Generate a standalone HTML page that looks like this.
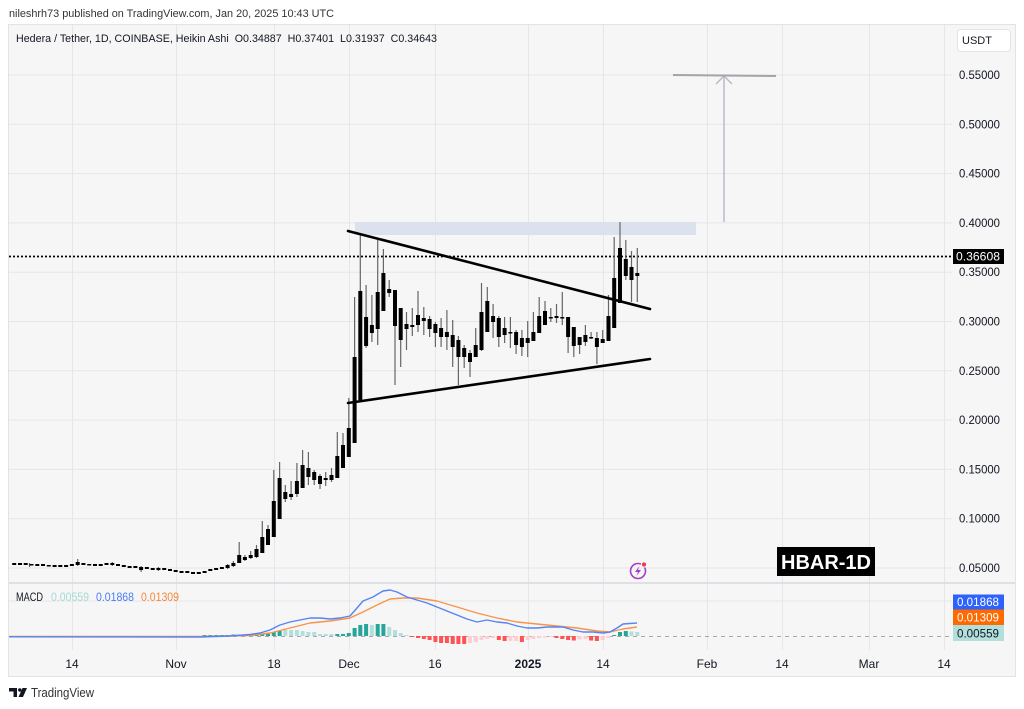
<!DOCTYPE html>
<html><head><meta charset="utf-8"><style>
html,body{margin:0;padding:0;background:#fff;}
svg{display:block;font-family:"Liberation Sans",sans-serif;}
</style></head><body>
<svg width="1024" height="709" viewBox="0 0 1024 709" xmlns="http://www.w3.org/2000/svg">
<rect x="0" y="0" width="1024" height="709" fill="#fff"/>
<text x="9" y="17" font-size="11" fill="#333" textLength="325" lengthAdjust="spacingAndGlyphs">nileshrh73 published on TradingView.com, Jan 20, 2025 10:43 UTC</text>
<rect x="8.5" y="24.5" width="1007" height="652" fill="#f6f6f6" stroke="#e2e3e8" stroke-width="1"/>
<!-- vertical gridlines -->
<g stroke="#e6e6e8" stroke-width="1">
<path d="M72.5 25V650M176.5 25V650M274.5 25V650M349.5 25V650M435.5 25V650M528.5 25V650M603.5 25V650M707.5 25V650M782.5 25V650M869.5 25V650M944.5 25V650"/>
<path d="M9 75H952M9 124.3H952M9 173.6H952M9 222.9H952M9 272.2H952M9 321.5H952M9 370.8H952M9 420.1H952M9 469.4H952M9 518.7H952M9 568H952"/>
<path d="M9 601H952"/>
</g>
<path d="M9 583H1015" stroke="#d7d9e0" stroke-width="1.5"/>
<!-- header line 2 -->
<text x="16" y="42" font-size="11" fill="#131722" style="white-space:pre" textLength="421" lengthAdjust="spacingAndGlyphs">Hedera / Tether, 1D, COINBASE, Heikin Ashi  O0.34887  H0.37401  L0.31937  C0.34643</text>
<!-- resistance zone -->
<rect x="355" y="222" width="341" height="13" fill="#dce1ee"/>
<!-- target arrow -->
<path d="M724 222V76" stroke="#b8bcc8" stroke-width="1.5" fill="none"/>
<path d="M716 84L724 76L732 84" stroke="#b8bcc8" stroke-width="1.5" fill="none"/>
<path d="M673 75L776 76" stroke="#a3a4a8" stroke-width="2"/>
<!-- dotted price line -->
<path d="M9 256.5H952" stroke="#000" stroke-width="1.8" stroke-dasharray="2 2"/>
<!-- wicks -->
<path fill="none" stroke="#666" stroke-width="1.2" d="M637.3,248V302M631.5,251V302M625.8,240V280M620,222V303M614.2,237V328M608.5,295V341M602.7,330V343M596.9,332V364M591.1,332V339M585.4,325V346M579.6,337V354M573.8,327V357M568.1,317V353M562.3,292V325M556.5,304V323M550.8,308V322M545,301V325M539.2,297V333M533.4,312V341M527.7,321V357M521.9,330V356M516.1,330V354M510.4,317V348M504.6,317V343M498.8,316V347M493.1,304V338M487.3,287V332M481.5,283V351M475.7,328V357M470,350V377M464.2,345V368M458.4,336V385M452.7,320V367M446.9,310V350M441.1,318V347M435.4,322V347M429.6,316V337M423.8,307V335M418,291V332M412.3,308V336M406.5,312V350M400.7,308V367M395,290V385M389.2,280V297M383.4,249V311M377.7,240V345M371.9,295V342M366.1,285V348M360.3,233V402M354.6,297V443M348.8,398V457M343,433V468M337.3,432V478M331.5,468V482M325.7,472V486M320,474V489M314.2,470V485M308.4,452V485M302.6,450V488M296.9,463V497M291.1,481V500M285.3,485V502M279.6,462V519M273.8,470V537M268,525V545M262.3,521V553M256.5,545V558M250.7,551V559M244.9,555V561M239.2,542V563M233.4,561V567M227.6,564V569M141.1,566V572M77.7,559V566M29.5,563V567M158.4,567V571M112.3,562V566"/>
<!-- bodies -->
<path fill="#000" d="M635.3,273h4v3h-4zM629.5,267h4v13h-4zM623.8,259h4v17h-4zM618,248h4v55h-4zM612.2,278h4v50h-4zM606.5,316h4v25h-4zM600.7,339h4v4h-4zM594.9,338h4v9h-4zM589.1,337h4v1.5h-4zM583.4,335h4v7h-4zM577.6,337h4v8h-4zM571.8,327h4v19h-4zM566.1,317h4v20h-4zM560.3,317h4v1.5h-4zM554.5,316h4v2h-4zM548.8,317h4v1.5h-4zM543,311h4v14h-4zM537.2,316h4v17h-4zM531.4,332h4v9h-4zM525.7,338h4v5h-4zM519.9,338h4v9h-4zM514.1,332h4v13h-4zM508.4,332h4v1.5h-4zM502.6,328h4v7h-4zM496.8,318h4v19h-4zM491.1,316h4v6h-4zM485.3,301h4v31h-4zM479.5,312h4v38h-4zM473.7,345h4v12h-4zM468,353h4v9h-4zM462.2,348h4v9h-4zM456.4,340h4v17h-4zM450.7,335h4v12h-4zM444.9,332h4v5h-4zM439.1,328h4v9h-4zM433.4,324h4v9h-4zM427.6,319h4v10h-4zM421.8,318h4v3h-4zM416,315h4v10h-4zM410.3,325h4v2h-4zM404.5,324h4v5h-4zM398.7,308h4v32h-4zM393,290h4v36h-4zM387.2,289h4v4h-4zM381.4,273h4v38h-4zM375.7,292h4v37h-4zM369.9,325h4v8h-4zM364.1,317h4v29h-4zM358.3,291h4v109h-4zM352.6,357h4v86h-4zM346.8,428h4v29h-4zM341,445h4v23h-4zM335.3,456h4v22h-4zM329.5,475h4v5h-4zM323.7,478h4v2h-4zM318,476h4v8h-4zM312.2,472h4v8h-4zM306.4,468h4v9h-4zM300.6,465h4v23h-4zM294.9,481h4v13h-4zM289.1,494h4v3h-4zM283.3,492h4v7h-4zM277.6,478h4v41h-4zM271.8,501h4v36h-4zM266,529h4v16h-4zM260.3,537h4v16h-4zM254.5,549h4v8h-4zM248.7,555h4v3h-4zM242.9,557h4v3h-4zM237.2,555h4v8h-4zM231.4,563h4v3h-4zM225.6,565h4v3h-4zM219.9,567h4v2h-4zM214.1,568h4v2h-4zM208.3,569h4v2h-4zM202.6,571h4v2h-4zM196.8,572h4v2h-4zM191,572h4v2h-4zM185.3,571h4v2h-4zM179.5,571h4v2h-4zM173.7,570h4v2h-4zM168,569h4v2h-4zM162.2,568h4v2h-4zM156.4,568h4v2h-4zM150.7,568h4v2h-4zM144.9,567h4v2h-4zM139.1,567h4v3h-4zM133.4,566h4v2h-4zM127.6,566h4v2h-4zM121.8,565h4v2h-4zM116,564h4v2h-4zM110.3,563h4v2h-4zM104.5,563h4v2h-4zM98.7,564h4v2h-4zM93,564h4v2h-4zM87.2,564h4v1.5h-4zM81.4,563h4v2h-4zM75.7,562h4v3h-4zM69.9,564h4v2h-4zM64.1,565h4v2h-4zM58.3,565h4v2h-4zM52.6,565h4v2h-4zM46.8,565h4v1.5h-4zM41,564h4v2h-4zM35.3,564h4v2h-4zM29.5,564h4v1.5h-4zM23.7,563h4v2h-4zM18,563h4v2h-4zM12.2,563h4v2h-4z"/>
<!-- triangle -->
<path d="M348 231L650 309M348 403L650 359" stroke="#000" stroke-width="2.6" stroke-linecap="round" fill="none"/>
<!-- HBAR label -->
<rect x="777" y="547" width="98" height="29" fill="#000"/>
<text x="826" y="569" font-size="20" font-weight="bold" fill="#fff" text-anchor="middle">HBAR-1D</text>
<!-- lightning icon -->
<circle cx="638" cy="571" r="7.5" fill="none" stroke="#a23fc4" stroke-width="1.6"/>
<path d="M639.5 566L635 572H638L636.5 576L641 570H638Z" fill="#a23fc4"/>
<circle cx="644" cy="564.5" r="2.6" fill="#f23645" stroke="#f6f6f6" stroke-width="1"/>
<!-- MACD zero line -->
<path d="M9 636.5H952" stroke="#a8a9b0" stroke-width="1" stroke-dasharray="4 4"/>
<!-- histogram -->
<path fill="#26a69a" d="M248.7,635h4v1h-4zM254.5,634h4v2h-4zM260.3,634h4v2h-4zM266,633h4v3h-4zM271.8,632h4v4h-4zM277.6,631h4v5h-4zM335.3,634h4v2h-4zM341,634h4v2h-4zM346.8,633h4v3h-4zM352.6,628h4v8h-4zM358.3,625h4v11h-4zM364.1,624h4v12h-4zM375.7,624h4v12h-4zM381.4,624h4v12h-4zM612.2,635h4v1h-4zM618,632h4v4h-4zM623.8,631h4v5h-4zM202.6,635h4v1h-4zM208.3,635h4v1h-4zM214.1,635h4v1h-4zM219.9,635h4v1h-4zM225.6,635h4v1h-4zM231.4,634.5h4v1.5h-4zM237.2,634.5h4v1.5h-4zM242.9,634.5h4v1.5h-4z"/>
<path fill="#b2dfdb" d="M283.3,630h4v6h-4zM289.1,630h4v6h-4zM294.9,630h4v6h-4zM300.6,631h4v5h-4zM306.4,632h4v4h-4zM312.2,632h4v4h-4zM318,634h4v2h-4zM323.7,634h4v2h-4zM329.5,634h4v2h-4zM369.9,625h4v11h-4zM387.2,627h4v9h-4zM393,630h4v6h-4zM398.7,633h4v3h-4zM404.5,635h4v1h-4zM629.5,631.5h4v4.5h-4zM635.3,632h4v4h-4z"/>
<path fill="#ff5252" d="M410.3,636h4v1h-4zM416,636h4v2h-4zM421.8,636h4v3h-4zM427.6,636h4v4h-4zM433.4,636h4v6h-4zM439.1,636h4v7h-4zM444.9,636h4v7h-4zM450.7,636h4v8h-4zM456.4,636h4v8h-4zM462.2,636h4v8h-4zM496.8,636h4v4h-4zM502.6,636h4v5h-4zM519.9,636h4v6h-4zM554.5,636h4v2h-4zM560.3,636h4v3h-4zM566.1,636h4v4h-4zM571.8,636h4v4.5h-4zM589.1,636h4v4.5h-4zM594.9,636h4v5h-4zM144.9,636h4v1h-4zM150.7,636h4v1h-4zM156.4,636h4v1h-4zM162.2,636h4v1h-4zM168,636h4v1h-4zM173.7,636h4v1h-4zM179.5,636h4v1h-4zM12.2,636h4v1h-4zM18,636h4v1h-4zM35.3,636h4v1h-4z"/>
<path fill="#ffcdd2" d="M468,636h4v7h-4zM473.7,636h4v6h-4zM479.5,636h4v4h-4zM485.3,636h4v3h-4zM491.1,636h4v2h-4zM508.4,636h4v5h-4zM514.1,636h4v5h-4zM525.7,636h4v4h-4zM531.4,636h4v3h-4zM537.2,636h4v2h-4zM543,636h4v1.5h-4zM548.8,636h4v1h-4zM577.6,636h4v3.5h-4zM583.4,636h4v3h-4zM600.7,636h4v4h-4zM606.5,636h4v2h-4zM23.7,636h4v1h-4zM29.5,636h4v1h-4zM41,636h4v1h-4zM46.8,636h4v1h-4zM185.3,636h4v1h-4zM191,636h4v1h-4z"/>
<!-- MACD lines -->
<polyline fill="none" stroke="#f8944a" stroke-width="1.4" stroke-linejoin="round" points="9,636.5 200,636.5 250,635.5 270,633 290,628 310,623 330,621 350,618 363,612 377,605 390,599 403,598 417,598 437,601 457,607 477,613 497,618 517,622 537,624 557,626 577,628 597,631 610,632 623,629 637,627"/>
<polyline fill="none" stroke="#5583f5" stroke-width="1.4" stroke-linejoin="round" points="9,636.8 200,637 230,636 250,634.5 260,633 270,630 280,625 290,622 300,620 310,618 320,618 330,619 340,618 350,616 357,608 363,601 373,597 383,591 390,590 397,592 407,597 417,600 427,603 437,607 447,611 457,615 467,619 477,622 487,620 497,622 507,623 517,626 527,628 537,628 547,627 557,627 563,627 573,630 583,632 593,632 603,633 610,632 617,628 623,624 637,623"/>
<!-- MACD legend -->
<text x="16" y="601" font-size="11.5" fill="#131722" textLength="27" lengthAdjust="spacingAndGlyphs">MACD</text>
<text x="51" y="601" font-size="11.5" fill="#a6dad4" textLength="38" lengthAdjust="spacingAndGlyphs">0.00559</text>
<text x="96" y="601" font-size="11.5" fill="#4a7bf6" textLength="38" lengthAdjust="spacingAndGlyphs">0.01868</text>
<text x="141" y="601" font-size="11.5" fill="#f7883a" textLength="38" lengthAdjust="spacingAndGlyphs">0.01309</text>
<!-- price axis -->
<rect x="957.5" y="29.5" width="53" height="22" rx="3" fill="#fff" stroke="#e3e4e8"/>
<text x="962" y="44" font-size="11" fill="#131722">USDT</text>
<g font-size="12" fill="#131722">
<text x="959" y="79" textLength="41" lengthAdjust="spacingAndGlyphs">0.55000</text>
<text x="959" y="128.3" textLength="41" lengthAdjust="spacingAndGlyphs">0.50000</text>
<text x="959" y="177.6" textLength="41" lengthAdjust="spacingAndGlyphs">0.45000</text>
<text x="959" y="226.9" textLength="41" lengthAdjust="spacingAndGlyphs">0.40000</text>
<text x="959" y="276.2" textLength="41" lengthAdjust="spacingAndGlyphs">0.35000</text>
<text x="959" y="325.5" textLength="41" lengthAdjust="spacingAndGlyphs">0.30000</text>
<text x="959" y="374.8" textLength="41" lengthAdjust="spacingAndGlyphs">0.25000</text>
<text x="959" y="424.1" textLength="41" lengthAdjust="spacingAndGlyphs">0.20000</text>
<text x="959" y="473.4" textLength="41" lengthAdjust="spacingAndGlyphs">0.15000</text>
<text x="959" y="522.7" textLength="41" lengthAdjust="spacingAndGlyphs">0.10000</text>
<text x="959" y="572" textLength="41" lengthAdjust="spacingAndGlyphs">0.05000</text>
</g>
<rect x="953" y="249" width="51" height="15" fill="#000"/>
<text x="956" y="260.5" font-size="12" fill="#fff" textLength="44" lengthAdjust="spacingAndGlyphs">0.36608</text>
<rect x="953" y="594.5" width="51" height="15" fill="#2d62ff"/>
<text x="957" y="606" font-size="12" fill="#fff" textLength="42" lengthAdjust="spacingAndGlyphs">0.01868</text>
<rect x="953" y="609.5" width="51" height="15.5" fill="#ff6a00"/>
<text x="957" y="621.5" font-size="12" fill="#fff" textLength="42" lengthAdjust="spacingAndGlyphs">0.01309</text>
<rect x="953" y="625" width="51" height="16" fill="#b2dfdb"/>
<text x="957" y="637.5" font-size="12" fill="#131722" textLength="42" lengthAdjust="spacingAndGlyphs">0.00559</text>
<!-- time axis -->
<g font-size="12" fill="#131722" text-anchor="middle">
<text x="72" y="668">14</text>
<text x="176" y="668">Nov</text>
<text x="274" y="668">18</text>
<text x="349" y="668">Dec</text>
<text x="435" y="668">16</text>
<text x="528" y="668" font-weight="bold">2025</text>
<text x="603" y="668">14</text>
<text x="707" y="668">Feb</text>
<text x="782" y="668">14</text>
<text x="869" y="668">Mar</text>
<text x="944" y="668">14</text>
</g>
<!-- footer logo -->
<path d="M9 688H17V697H13.5V691.5H9Z" fill="#131722"/>
<circle cx="19.8" cy="690" r="1.7" fill="#131722"/>
<path d="M22.5 688H27L23 697H18.5Z" fill="#131722"/>
<text x="31" y="697" font-size="12.5" fill="#333" textLength="63" lengthAdjust="spacingAndGlyphs">TradingView</text>
</svg>
</body></html>
